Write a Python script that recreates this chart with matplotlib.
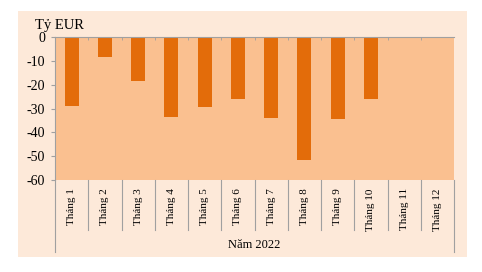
import matplotlib
matplotlib.use("Agg")
import matplotlib.pyplot as plt
from matplotlib.patches import Rectangle
from matplotlib.lines import Line2D

months = [f"Tháng {i}" for i in range(1, 13)]
values = [-29.0, -8.5, -18.3, -33.5, -29.3, -26.2, -34.0, -51.7, -34.5, -26.2, None, None]
y_ticks = [0, -10, -20, -30, -40, -50, -60]
year_label = "Năm 2022"
unit_label = "Tỷ EUR"

plt.rcParams['font.family'] = ['Liberation Serif', 'DejaVu Serif']

W, H = 482, 272
fig = plt.figure(figsize=(W / 100, H / 100), dpi=100)
fig.patch.set_facecolor('white')

# outer peach panel
fig.patches.append(Rectangle((18 / W, 1 - 257 / H), 449 / W, 246 / H,
                             transform=fig.transFigure, facecolor='#FDE9D9',
                             edgecolor='none', zorder=-5))

ax = fig.add_axes([55 / W, 1 - 180 / H, 399 / W, 143 / H])
ax.set_zorder(2)
ax.set_facecolor('#FAC090')

xs = list(range(len(months)))
for x, v in zip(xs, values):
    if v is not None:
        ax.bar(x, v, width=0.42, color='#E36C0A', zorder=2)

ax.set_xlim(-0.5, len(months) - 0.5)
ax.set_ylim(-60, 0)
ax.set_yticks(y_ticks)
ax.set_yticklabels([str(t) for t in y_ticks], fontsize=10)

ax.set_xticks(xs)
ax.set_xticklabels(months, rotation=90, fontsize=8)
ax.tick_params(axis='x', which='major', length=0, pad=6)
ax.set_xticks([x + 0.5 for x in xs[:-1]], minor=True)
ax.tick_params(axis='x', which='minor', top=True, bottom=False,
               direction='in', length=2.5, color='#A0A0A0')
ax.tick_params(axis='y', length=3, color='#A0A0A0', pad=4)

gray = '#A0A0A0'
for s in ['bottom', 'right']:
    ax.spines[s].set_visible(False)
ax.spines['top'].set_color(gray)
ax.spines['top'].set_linewidth(0.8)
ax.spines['left'].set_color(gray)
ax.spines['left'].set_linewidth(0.8)

# category separators below the axis
sep_bottom = -(230 - 180) / 143
full_bottom = -(252 - 180) / 143
for b in [x + 0.5 for x in xs[:-1]]:
    xa = (b + 0.5) / len(months)
    ax.add_line(Line2D([xa, xa], [0, sep_bottom], transform=ax.transAxes,
                       color=gray, lw=0.8, clip_on=False))
for xa in [0, 1]:
    ax.add_line(Line2D([xa, xa], [0, full_bottom],
                       transform=ax.transAxes, color=gray, lw=0.8, clip_on=False))

ax.text(0.5, -(245 - 180) / 143, year_label, transform=ax.transAxes,
        ha='center', va='center', fontsize=9)
fig.text(35 / W, 1 - 25 / H, unit_label, ha='left', va='center', fontsize=10.5)

fig.savefig('out.png', dpi=100)
